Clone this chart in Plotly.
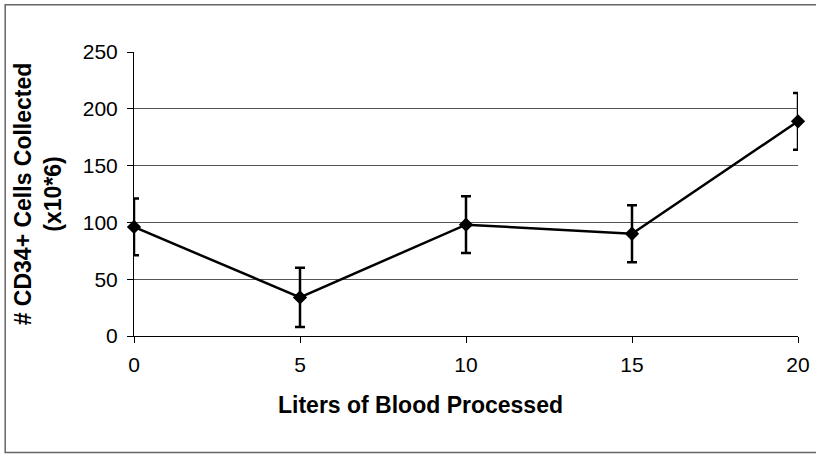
import plotly.graph_objects as go

liters = [0, 5, 10, 15, 20]
cd34_cells = [96, 34, 98, 90, 189]
error_vals = [25, 26, 25, 25, 25]
y_ticks = [0, 50, 100, 150, 200, 250]
x_ticks = [0, 5, 10, 15, 20]

fig = go.Figure()
fig.add_trace(go.Scatter(
    x=liters, y=cd34_cells,
    mode="lines+markers",
    line=dict(color="black", width=2.5),
    marker=dict(symbol="diamond", size=11, color="black"),
    error_y=dict(type="data", array=error_vals, visible=True,
                 color="black", thickness=2.5, width=5),
    showlegend=False,
    cliponaxis=False,
))

font_family = "Liberation Sans, Arial, sans-serif"
fig.update_layout(
    width=816, height=454,
    margin=dict(l=134, r=18, t=52, b=118, autoexpand=False),
    paper_bgcolor="white", plot_bgcolor="white",
    font=dict(family=font_family, color="black", size=21),
    xaxis=dict(range=[0, 20], tickvals=x_ticks, showgrid=False,
               showline=True, linecolor="black", linewidth=1,
               ticks="outside", ticklen=6, tickcolor="black",
               tickfont=dict(size=21), zeroline=False,
               ticklabelstandoff=4, automargin=False),
    yaxis=dict(range=[0, 250], tickvals=y_ticks, showgrid=True,
               gridcolor="#555555", gridwidth=1,
               showline=True, linecolor="black", linewidth=1,
               ticks="outside", ticklen=6, tickcolor="black",
               tickfont=dict(size=21), zeroline=False,
               ticklabelstandoff=5, automargin=False,
               title=dict(text="<b># CD34+ Cells Collected<br>(x10*6)</b>",
                          font=dict(size=23), standoff=14)),
)

# x-axis title (offset left of plot centre, as in the original)
fig.add_annotation(text="<b>Liters of Blood Processed</b>",
                   xref="paper", yref="paper", x=0.432, y=-0.243,
                   xanchor="center", yanchor="middle", showarrow=False,
                   font=dict(size=23, family=font_family, color="black"))

fig.add_shape(type="rect", xref="paper", yref="paper",
              x0=-0.194, x1=1.05, y0=-0.41, y1=1.166,
              line=dict(color="#666666", width=1.5))

fig.write_html("out.html", config={"displayModeBar": False},
               post_script="document.body.style.margin='0';document.body.style.overflow='hidden';")
